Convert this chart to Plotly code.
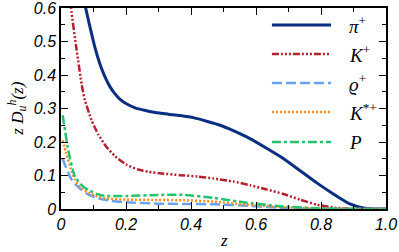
import plotly.graph_objects as go

# curves, z vs z*D(z)
z_pi = [0.06, 0.076, 0.09, 0.105, 0.12, 0.135, 0.15, 0.165, 0.18, 0.2, 0.228, 0.26,
        0.29, 0.33, 0.366, 0.41, 0.448, 0.49, 0.53, 0.58, 0.63, 0.684, 0.735, 0.787,
        0.838, 0.889, 0.93, 0.96, 1.0]
d_pi = [0.69, 0.6, 0.54, 0.48, 0.432, 0.395, 0.366, 0.345, 0.329, 0.315, 0.302, 0.294,
        0.288, 0.283, 0.279, 0.272, 0.262, 0.25, 0.234, 0.211, 0.183, 0.151, 0.115,
        0.078, 0.045, 0.015, 0.003, 0.0, 0.0]

z_k = [0.025, 0.031, 0.048, 0.064, 0.072, 0.094, 0.115, 0.14, 0.166, 0.2, 0.237,
       0.27, 0.31, 0.366, 0.42, 0.47, 0.53, 0.582, 0.63, 0.684, 0.735, 0.787, 0.85,
       0.9, 1.0]
d_k = [0.68, 0.6, 0.475, 0.37, 0.33, 0.265, 0.222, 0.185, 0.158, 0.133, 0.118,
       0.111, 0.106, 0.101, 0.097, 0.091, 0.082, 0.071, 0.059, 0.045, 0.028, 0.013,
       0.003, 0.0, 0.0]

z_rho = [0.005, 0.015, 0.033, 0.05, 0.064, 0.085, 0.115, 0.15, 0.2, 0.3, 0.38,
         0.47, 0.57, 0.67, 0.77, 0.85, 1.0]
d_rho = [0.15, 0.125, 0.087, 0.068, 0.057, 0.043, 0.032, 0.025, 0.02, 0.016, 0.015,
         0.014, 0.01, 0.004, 0.001, 0.0, 0.0]

z_kst = [0.005, 0.015, 0.03, 0.043, 0.06, 0.084, 0.11, 0.135, 0.2, 0.3, 0.38,
         0.47, 0.57, 0.67, 0.77, 0.85, 1.0]
d_kst = [0.205, 0.17, 0.12, 0.087, 0.065, 0.049, 0.038, 0.032, 0.028, 0.027, 0.026,
         0.022, 0.013, 0.006, 0.002, 0.0005, 0.0]

z_p = [0.005, 0.01, 0.022, 0.043, 0.065, 0.084, 0.11, 0.135, 0.2, 0.3, 0.38,
       0.47, 0.571, 0.674, 0.77, 0.85, 1.0]
d_p = [0.28, 0.25, 0.176, 0.096, 0.07, 0.057, 0.045, 0.039, 0.039, 0.042, 0.042,
       0.033, 0.019, 0.008, 0.003, 0.001, 0.0]

labels = ["<i>π</i><sup>+</sup>", "<i>K</i><sup>+</sup>", "<i>ϱ</i><sup>+</sup>",
          "<i>K</i><sup>*+</sup>", "<i>P</i>"]

x_ticks = [0, 0.2, 0.4, 0.6, 0.8, 1.0]
x_ticktext = ["0", "0.2", "0.4", "0.6", "0.8", "1.0"]
y_ticks = [0, 0.1, 0.2, 0.3, 0.4, 0.5, 0.6]
y_ticktext = ["0", "0.1", "0.2", "0.3", "0.4", "0.5", "0.6"]

series = [
    (z_pi, d_pi, "#0b2f80", 3, "solid"),
    (z_k, d_k, "#b3222e", 2.5, "7px,2px,2px,2px,2px,2px,2px,2px"),
    (z_rho, d_rho, "#66a3f5", 2.5, "10px,4px"),
    (z_kst, d_kst, "#ff8c1a", 2.5, "2px,2px"),
    (z_p, d_p, "#22c46e", 2.5, "9px,3px,3px,3px"),
]

fig = go.Figure()
for (zz, dd, col, w, dash), lab in zip(series, labels):
    fig.add_trace(go.Scatter(
        x=zz, y=dd, mode="lines", name=lab,
        line=dict(color=col, width=w, dash=dash, shape="spline", smoothing=0.5),
        showlegend=False
    ))

# hand-made legend so the sample lines are long like the original
row_y = [0.915, 0.771, 0.627, 0.483, 0.333]
for (zz, dd, col, w, dash), lab, ry in zip(series, labels, row_y):
    fig.add_shape(type="line", xref="paper", yref="paper",
                  x0=0.649, x1=0.831, y0=ry, y1=ry,
                  line=dict(color=col, width=w, dash=dash))
    fig.add_annotation(x=0.88, y=ry, xref="paper", yref="paper",
                       text=lab, showarrow=False, xanchor="left", yanchor="middle",
                       font=dict(family="Liberation Serif", size=19, color="black"))

# axis titles
fig.add_annotation(x=0.5, y=-0.155, xref="paper", yref="paper", text="<i>z</i>",
                   showarrow=False, xanchor="center", yanchor="middle",
                   font=dict(family="Liberation Serif", size=17, color="black"))
fig.add_annotation(x=-0.135, y=0.5, xref="paper", yref="paper", textangle=-90,
                   text="<i>z D</i><sub><i>u</i></sub><sup><i>h</i></sup><i>(z)</i>",
                   showarrow=False, xanchor="center", yanchor="middle",
                   font=dict(family="Liberation Serif", size=17, color="black"))

axis_common = dict(
    showline=True, linecolor="black", linewidth=1.5, mirror="allticks",
    ticks="inside", ticklen=7, tickwidth=1.2, tickcolor="black",
    showgrid=False, zeroline=False, automargin=False, ticklabeloverflow="allow",
    tickfont=dict(family="Liberation Sans", size=16, color="black", style="italic"),
)

fig.update_xaxes(
    range=[0, 1], tickvals=x_ticks, ticktext=x_ticktext,
    minor=dict(ticks="inside", ticklen=4, dtick=0.1, tickcolor="black"),
    **axis_common
)
fig.update_yaxes(
    range=[0, 0.6], tickvals=y_ticks, ticktext=y_ticktext,
    minor=dict(ticks="inside", ticklen=4, dtick=0.05, tickcolor="black"),
    **axis_common
)

fig.update_layout(
    width=399, height=252,
    margin=dict(l=61, r=13, t=8, b=43),
    paper_bgcolor="white", plot_bgcolor="white",
)

# drop the browser's default body margin so the figure sits at the page corner
fig.write_html("out.html", config={"displayModeBar": False},
               post_script="document.body.style.margin = '0';")
